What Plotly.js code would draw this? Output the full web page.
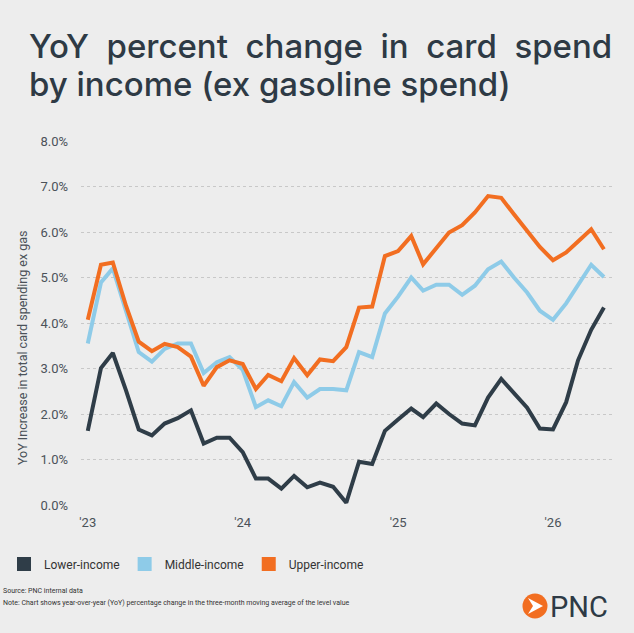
<!DOCTYPE html>
<html>
<head>
<meta charset="utf-8">
<script src="https://cdn.plot.ly/plotly-3.0.1.min.js"></script>
<style>
html,body{margin:0;padding:0;background:#ededed;}
#chart{width:634px;height:633px;}
</style>
</head>
<body>
<div id="chart"></div>
<script>
// Monthly data, Jan 2023 .. May 2026
const months = [
 '2023-01-01','2023-02-01','2023-03-01','2023-04-01','2023-05-01','2023-06-01','2023-07-01','2023-08-01','2023-09-01','2023-10-01','2023-11-01','2023-12-01',
 '2024-01-01','2024-02-01','2024-03-01','2024-04-01','2024-05-01','2024-06-01','2024-07-01','2024-08-01','2024-09-01','2024-10-01','2024-11-01','2024-12-01',
 '2025-01-01','2025-02-01','2025-03-01','2025-04-01','2025-05-01','2025-06-01','2025-07-01','2025-08-01','2025-09-01','2025-10-01','2025-11-01','2025-12-01',
 '2026-01-01','2026-02-01','2026-03-01','2026-04-01','2026-05-01'];

const lowerIncome = [1.63,3.01,3.34,2.52,1.66,1.53,1.79,1.91,2.08,1.35,1.48,1.48,
 1.16,0.58,0.58,0.36,0.64,0.39,0.49,0.40,0.05,0.95,0.90,1.63,
 1.88,2.12,1.93,2.23,2.00,1.79,1.75,2.36,2.77,2.45,2.14,1.68,
 1.66,2.26,3.18,3.85,4.34];

const middleIncome = [3.55,4.89,5.20,4.30,3.36,3.15,3.43,3.55,3.55,2.90,3.14,3.25,
 2.97,2.15,2.30,2.17,2.70,2.36,2.55,2.55,2.52,3.36,3.25,4.21,
 4.58,5.00,4.71,4.84,4.84,4.62,4.82,5.18,5.35,5.00,4.67,4.27,
 4.07,4.43,4.85,5.28,5.01];

const upperIncome = [4.07,5.28,5.33,4.38,3.59,3.38,3.54,3.47,3.26,2.62,3.03,3.18,
 3.10,2.55,2.86,2.72,3.23,2.85,3.20,3.16,3.47,4.34,4.36,5.47,
 5.58,5.91,5.29,5.64,5.99,6.15,6.43,6.79,6.75,6.39,6.02,5.67,
 5.38,5.55,5.79,6.06,5.62];

const seriesNames = ['Lower-income','Middle-income','Upper-income'];
const seriesColors = ['#2f3d48','#8ecbe8','#f26e21'];
const xTickVals = ['2023-01-01','2024-01-01','2025-01-01','2026-01-01'];
const xTickText = ["'23","'24","'25","'26"];
const yTickVals = [0,1,2,3,4,5,6,7,8];
const yTickText = ['0.0%','1.0%','2.0%','3.0%','4.0%','5.0%','6.0%','7.0%','8.0%'];

const W = 634, H = 633, L = 81, R = 22, T = 141, B = 128;
const pw = W - L - R, ph = H - T - B;
const px = x => (x - L) / pw;
const py = y => (H - B - y) / ph;

const allY = [lowerIncome, middleIncome, upperIncome];
const traces = [];
allY.forEach((ys, k) => {
  traces.push({
    x: months, y: ys, type: 'scatter', mode: 'lines',
    name: seriesNames[k], showlegend: false,
    line: {color: seriesColors[k], width: 4},
    hoverinfo: 'skip'
  });
});
// legend entries with square swatches
allY.forEach((ys, k) => {
  traces.push({
    x: [null], y: [null], type: 'scatter', mode: 'markers',
    name: seriesNames[k], showlegend: true,
    marker: {color: seriesColors[k], symbol: 'square', size: 14}
  });
});

const axisFont = {family: 'Roboto, sans-serif', size: 13, color: '#4b5259'};
const titleFont = {family: 'Inter, sans-serif', size: 33, color: '#2e3a45', weight: 500};
const noteFont = {family: 'Roboto, sans-serif', size: 7.0, color: '#333'};

const layout = {
  width: W, height: H,
  paper_bgcolor: '#ededed', plot_bgcolor: '#ededed',
  margin: {l: L, r: R, t: T, b: B, pad: 0, autoexpand: false},
  showlegend: true,
  legend: {
    orientation: 'h', x: px(4), xanchor: 'left', y: py(564), yanchor: 'middle',
    font: {family: 'Roboto, sans-serif', size: 12, color: '#333'},
    itemwidth: 30,
    bgcolor: 'rgba(0,0,0,0)', traceorder: 'normal'
  },
  xaxis: {
    type: 'date', range: ['2022-12-16', '2026-05-20'],
    tickvals: xTickVals, ticktext: xTickText,
    showgrid: false, zeroline: false, showline: false, ticks: '',
    tickfont: axisFont, ticklabelstandoff: 8
  },
  yaxis: {
    range: [0, 8], tickmode: 'array', tickvals: yTickVals, ticktext: yTickText,
    showgrid: true, gridcolor: '#c8c8c8', griddash: 'dot', gridwidth: 1,
    zeroline: false, showline: false, ticks: '',
    tickfont: axisFont, ticklabelstandoff: 12
  },
  annotations: [
    {text: 'YoY  percent  change  in  card  spend', xref: 'paper', yref: 'paper',
     x: px(27), y: py(68), xanchor: 'left', yanchor: 'bottom', showarrow: false, font: titleFont},
    {text: 'by income (ex gasoline spend)', xref: 'paper', yref: 'paper',
     x: px(27), y: py(106), xanchor: 'left', yanchor: 'bottom', showarrow: false, font: titleFont},
    {text: 'YoY Increase in total card spending ex gas', xref: 'paper', yref: 'paper',
     x: px(22), y: py(348), xanchor: 'center', yanchor: 'middle', textangle: -90, showarrow: false,
     font: {family: 'Roboto, sans-serif', size: 12.5, color: '#4b5259'}},
    {text: 'Source: PNC internal data', xref: 'paper', yref: 'paper',
     x: px(1), y: py(591), xanchor: 'left', yanchor: 'middle', showarrow: false, font: noteFont},
    {text: 'Note: Chart shows year-over-year (YoY) percentage change in the three-month moving average of the level value', xref: 'paper', yref: 'paper',
     x: px(1), y: py(603), xanchor: 'left', yanchor: 'middle', showarrow: false, font: noteFont},
    {text: 'PNC', xref: 'paper', yref: 'paper',
     x: px(548), y: py(607), xanchor: 'left', yanchor: 'middle', showarrow: false,
     font: {family: 'Roboto, sans-serif', size: 29, color: '#2e3a45'}}
  ],
  shapes: [
    {type: 'circle', xref: 'paper', yref: 'paper',
     x0: px(522.5), x1: px(547.5), y0: py(618.5), y1: py(593.5),
     fillcolor: '#f26e21', line: {width: 0}, layer: 'above'},
    {type: 'path', xref: 'paper', yref: 'paper',
     path: 'M ' + px(528) + ' ' + py(598) + ' L ' + px(543) + ' ' + py(606) + ' L ' + px(528) + ' ' + py(614) + ' L ' + px(533) + ' ' + py(606) + ' Z',
     fillcolor: '#ffffff', line: {width: 0}, layer: 'above'}
  ]
};

Plotly.newPlot('chart', traces, layout, {displayModeBar: false, staticPlot: true});
</script>
</body>
</html>
